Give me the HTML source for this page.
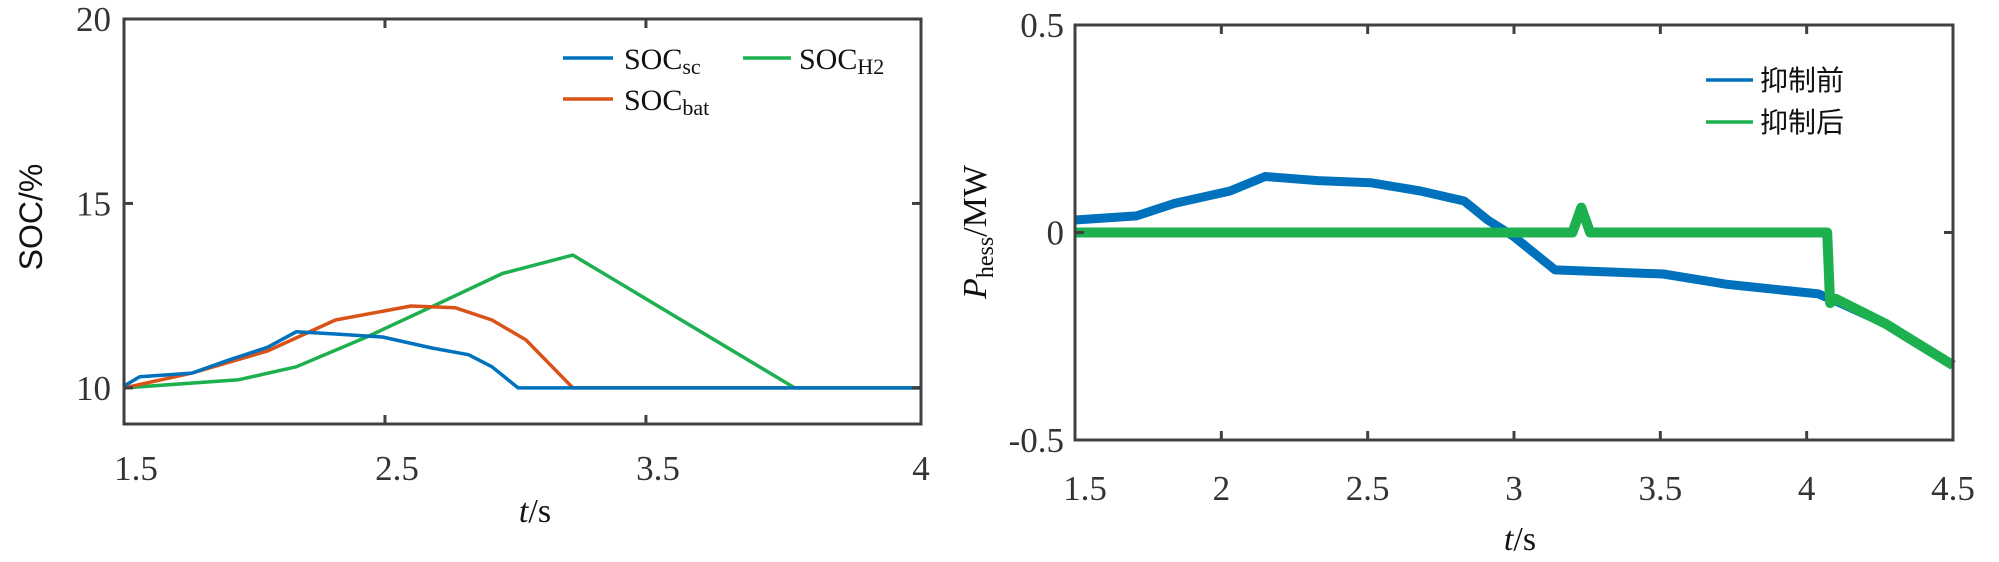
<!DOCTYPE html>
<html><head><meta charset="utf-8"><style>
html,body{margin:0;padding:0;background:#fff;}
svg{display:block;}
.tk{font-family:"Liberation Serif",serif;font-size:35px;fill:#333;}
.lg{font-family:"Liberation Serif",serif;font-size:30px;fill:#111;}
.lgc{font-family:"Liberation Sans","Noto Sans CJK SC",sans-serif;font-size:28px;fill:#111;}
</style></head><body>
<svg id="chart" width="1999" height="562" viewBox="0 0 1999 562" xmlns="http://www.w3.org/2000/svg">
<g id="left"></g>
<g id="right"></g>
</svg>
<script>
// ---- Left chart data ----
const socXTicks = [1.5, 2.5, 3.5];
const socXTickLabels = ["1.5", "2.5", "3.5"];
const socYTicks = [10, 15, 20];
const socScT = [1.5, 1.56, 1.76, 1.9, 2.05, 2.16, 2.31, 2.49, 2.68, 2.82, 2.91, 3.01, 4.554];
const socScV = [10.05, 10.3, 10.4, 10.75, 11.1, 11.52, 11.46, 11.38, 11.08, 10.9, 10.57, 10, 10];
const socBatT = [1.5, 1.76, 2.05, 2.31, 2.6, 2.77, 2.91, 3.04, 3.22, 4.554];
const socBatV = [10, 10.4, 11.0, 11.84, 12.22, 12.17, 11.84, 11.3, 10, 10];
const socH2T = [1.5, 1.94, 2.16, 2.43, 2.68, 2.95, 3.22, 4.07, 4.554];
const socH2V = [10, 10.22, 10.57, 11.38, 12.2, 13.1, 13.6, 10, 10];
// ---- Right chart data ----
const pXTicks = [1.5, 2, 2.5, 3, 3.5, 4, 4.5];
const pXTickLabels = ["1.5", "2", "2.5", "3", "3.5", "4", "4.5"];
const pYTicks = [-0.5, 0, 0.5];
const pYTickLabels = ["-0.5", "0", "0.5"];
const pBeforeT = [1.5, 1.71, 1.84, 2.03, 2.15, 2.33, 2.51, 2.68, 2.83, 2.91, 3.0, 3.14, 3.51, 3.73, 4.04, 4.08, 4.1, 4.27, 4.5];
const pBeforeV = [0.03, 0.04, 0.07, 0.10, 0.135, 0.125, 0.12, 0.10, 0.076, 0.03, -0.01, -0.09, -0.10, -0.125, -0.148, -0.16, -0.165, -0.22, -0.32];
const pAfterT = [1.5, 3.2, 3.23, 3.26, 4.07, 4.08, 4.1, 4.27, 4.5];
const pAfterV = [0, 0, 0.06, 0, 0, -0.17, -0.16, -0.22, -0.32];

const NS = "http://www.w3.org/2000/svg";
function mk(parent, tag, attrs){const e=document.createElementNS(NS,tag);for(const k in attrs)e.setAttribute(k,attrs[k]);parent.appendChild(e);return e;}
const AX = "#404040";

// Left axes
const L = {x0:124, x1:921, y0:19, y1:424, xmin:1.5, xmax:4.554, ymin:9.02, ymax:20};
const lx = v => L.x0 + (v - L.xmin) / (L.xmax - L.xmin) * (L.x1 - L.x0);
const ly = v => L.y1 - (v - L.ymin) / (L.ymax - L.ymin) * (L.y1 - L.y0);
const gl = document.getElementById('left');

function series(g, xs, ys, fx, fy, color, w, name){
  const d = xs.map((t,i)=>(i?'L':'M')+fx(t).toFixed(1)+' '+fy(ys[i]).toFixed(1)).join(' ');
  const p = mk(g,'path',{d:d,fill:'none',stroke:color,'stroke-width':w,'stroke-linejoin':'round'});
  
  
}
series(gl, socH2T, socH2V, lx, ly, '#1DB04F', 3.5, 'soc-h2-line');
series(gl, socBatT, socBatV, lx, ly, '#D95319', 3.5, 'soc-bat-line');
series(gl, socScT, socScV, lx, ly, '#0072BD', 3.5, 'soc-sc-line');

const lbox = mk(gl,'rect',{x:L.x0,y:L.y0,width:L.x1-L.x0,height:L.y1-L.y0,fill:'none',stroke:AX,'stroke-width':3});


socXTicks.forEach((v,i)=>{
  const x = lx(v);
  if(i>0){
    const t1 = mk(gl,'line',{x1:x,x2:x,y1:L.y1,y2:L.y1-9,stroke:AX,'stroke-width':3});
     
    const t2 = mk(gl,'line',{x1:x,x2:x,y1:L.y0,y2:L.y0+9,stroke:AX,'stroke-width':3});
     
  }
  const tx = mk(gl,'text',{x:x+12,y:480,'text-anchor':'middle',class:'tk'});
  tx.textContent = socXTickLabels[i];
   
});
const l4 = mk(gl,'text',{x:L.x1,y:480,'text-anchor':'middle',class:'tk'}); l4.textContent='4';
 
socYTicks.forEach(v=>{
  const y = ly(v);
  const t1 = mk(gl,'line',{x1:L.x0,x2:L.x0+9,y1:y,y2:y,stroke:AX,'stroke-width':3});
   
  const t2 = mk(gl,'line',{x1:L.x1,x2:L.x1-9,y1:y,y2:y,stroke:AX,'stroke-width':3});
   
  const tx = mk(gl,'text',{x:111,y:y+12,'text-anchor':'end',class:'tk'}); tx.textContent=String(v);
   
});
</script>
<script>
(function(){
const gl=document.getElementById('left');
gl.insertAdjacentHTML('beforeend',
 '<text transform="translate(42,217) rotate(-90)" text-anchor="middle" style="font-family:\'Liberation Sans\',sans-serif;font-size:32px;fill:#111">SOC/%</text>'+
 '<text x="535" y="522" text-anchor="middle" style="font-family:\'Liberation Serif\',serif;font-size:34px;fill:#111"><tspan font-style="italic">t</tspan>/s</text>'+
 '<g>'+
 '<line x1="563" y1="58" x2="613" y2="58" stroke="#0072BD" stroke-width="3.5"/>'+
 '<text x="624" y="69" class="lg">SOC<tspan font-size="22" dy="5">sc</tspan></text>'+
 '<line x1="563" y1="99" x2="613" y2="99" stroke="#D95319" stroke-width="3.5"/>'+
 '<text x="624" y="110" class="lg">SOC<tspan font-size="22" dy="5">bat</tspan></text>'+
 '<line x1="743" y1="58" x2="791" y2="58" stroke="#1DB04F" stroke-width="3.5"/>'+
 '<text x="799" y="69" class="lg">SOC<tspan font-size="22" dy="5">H2</tspan></text>'+
 '</g>');
})();
(function(){
const R = {x0:1075, x1:1953, y0:25, y1:440, xmin:1.5, xmax:4.5, ymin:-0.5, ymax:0.5};
const rx = v => R.x0 + (v - R.xmin)/(R.xmax-R.xmin)*(R.x1-R.x0);
const ry = v => R.y1 - (v - R.ymin)/(R.ymax-R.ymin)*(R.y1-R.y0);
const g = document.getElementById('right');
function series(xs, ys, color, w, name){
  const d = xs.map((t,i)=>(i?'L':'M')+rx(t).toFixed(1)+' '+ry(ys[i]).toFixed(1)).join(' ');
  const p = mk(g,'path',{d:d,fill:'none',stroke:color,'stroke-width':w,'stroke-linejoin':'round'});
  
  
}
series(pBeforeT, pBeforeV, '#0072BD', 9, 'before-suppression-line');
series(pAfterT, pAfterV, '#1DB04F', 10, 'after-suppression-line');
const box = mk(g,'rect',{x:R.x0,y:R.y0,width:R.x1-R.x0,height:R.y1-R.y0,fill:'none',stroke:AX,'stroke-width':3});


pXTicks.forEach((v,i)=>{
  const x=rx(v);
  if(i>0 && i<pXTicks.length-1){
    const t1=mk(g,'line',{x1:x,x2:x,y1:R.y1,y2:R.y1-9,stroke:AX,'stroke-width':3});
     
    const t2=mk(g,'line',{x1:x,x2:x,y1:R.y0,y2:R.y0+9,stroke:AX,'stroke-width':3});
     
  }
  const tx=mk(g,'text',{x:x+(i===0?10:0),y:500,'text-anchor':'middle',class:'tk'}); tx.textContent=pXTickLabels[i];
   
});
pYTicks.forEach((v,i)=>{
  const y=ry(v);
  const t1=mk(g,'line',{x1:R.x0,x2:R.x0+9,y1:y,y2:y,stroke:AX,'stroke-width':3});
   
  const t2=mk(g,'line',{x1:R.x1,x2:R.x1-9,y1:y,y2:y,stroke:AX,'stroke-width':3});
   
  const tx=mk(g,'text',{x:1064,y:y+12,'text-anchor':'end',class:'tk'}); tx.textContent=pYTickLabels[i];
   
});
g.insertAdjacentHTML('beforeend',
 '<text transform="translate(986,232) rotate(-90)" text-anchor="middle" style="font-family:\'Liberation Serif\',serif;font-size:34px;fill:#111"><tspan font-style="italic">P</tspan><tspan font-size="24" dy="7">hess</tspan><tspan dy="-7">/MW</tspan></text>'+
 '<text x="1520" y="550" text-anchor="middle" style="font-family:\'Liberation Serif\',serif;font-size:34px;fill:#111"><tspan font-style="italic">t</tspan>/s</text>'+
 '<g>'+
 '<line x1="1706" y1="80" x2="1753" y2="80" stroke="#0072BD" stroke-width="3.5"/>'+
 '<text x="1760" y="90" class="lgc">抑制前</text>'+
 '<line x1="1706" y1="122" x2="1753" y2="122" stroke="#1DB04F" stroke-width="3.5"/>'+
 '<text x="1760" y="132" class="lgc">抑制后</text>'+
 '</g>');
})();
</script>
</body></html>
